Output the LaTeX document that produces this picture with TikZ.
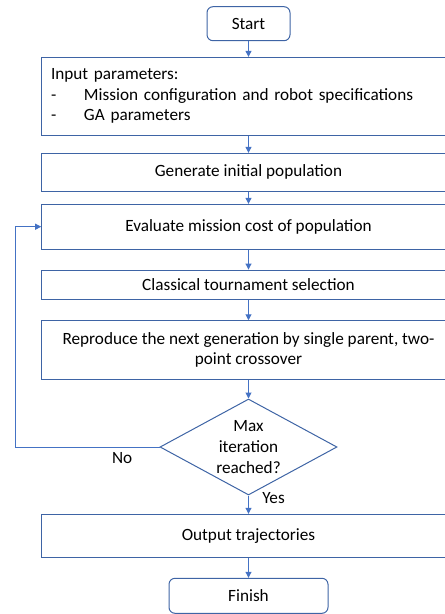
\documentclass[tikz,border=0pt]{standalone}
\usepackage{fontspec}
\setmainfont{Carlito}
\usetikzlibrary{shapes.geometric,arrows.meta}
\definecolor{boxblue}{RGB}{62,100,165}
\definecolor{arrowblue}{RGB}{68,114,196}
\begin{document}
\begin{tikzpicture}[x=1pt,y=-1pt,font=\fontsize{17.2}{20.6}\selectfont]
  \tikzstyle{terminal}=[rectangle, rounded corners=6pt, draw=boxblue, line width=1pt, inner sep=0pt]
  \tikzstyle{process}=[rectangle, draw=boxblue, line width=1pt, minimum width=413.6pt, inner sep=0pt, align=center]
  \tikzstyle{decision}=[diamond, draw=boxblue, line width=1pt, aspect=1.84, minimum width=177pt, minimum height=96pt, inner sep=0pt, align=center]
  \tikzstyle{flow}=[draw=arrowblue, line width=1pt, -{Triangle[length=6pt,width=6pt]}]
  \clip (0,0) rectangle (445,614);
  % Node definitions
  \node[terminal, minimum width=83pt, minimum height=34pt] (start) at (248.5,23.7) {Start};
  \node[process, minimum height=77.7pt, text width=395pt, inner xsep=9.3pt, align=left] (input) at (248.5,96.2)
    {Input parameters:\\
     \makebox[33pt][l]{-}Mission configuration and robot specifications\\
     \makebox[33pt][l]{-}GA parameters};
  \node[process, minimum height=37.7pt] (gen) at (248.5,172.2) {Generate initial population};
  \node[process, minimum height=44.7pt] (eval) at (248.5,226.7) {Evaluate mission cost of population};
  \node[process, minimum height=29.3pt] (sel) at (248.5,284.7) {Classical tournament selection};
  \node[process, minimum height=58.3pt] (repro) at (248.5,349.9)
    {Reproduce the next generation by single parent, two-\\point crossover};
  \node[decision] (decide) at (248.5,447) {Max\\iteration\\reached?};
  \node[process, minimum height=43.4pt] (output) at (248.5,536) {Output trajectories};
  \node[terminal, minimum width=159pt, minimum height=35pt] (finish) at (248.5,595.8) {Finish};
  \coordinate (loop) at (15.7,447);

  % Edge definitions
  \draw[flow] (start) -- (input);
  \draw[flow] (input) -- (gen);
  \draw[flow] (gen) -- (eval);
  \draw[flow] (eval) -- (sel);
  \draw[flow] (sel) -- (repro);
  \draw[flow] (repro) -- (decide);
  \draw[flow] (decide.west) -- node[below=2pt, pos=0.26]{No} (loop) |- (eval.west);
  \draw[flow] (decide) -- node[right=10pt, pos=0.12]{Yes} (output);
  \draw[flow] (output) -- (finish);
\end{tikzpicture}
\end{document}
